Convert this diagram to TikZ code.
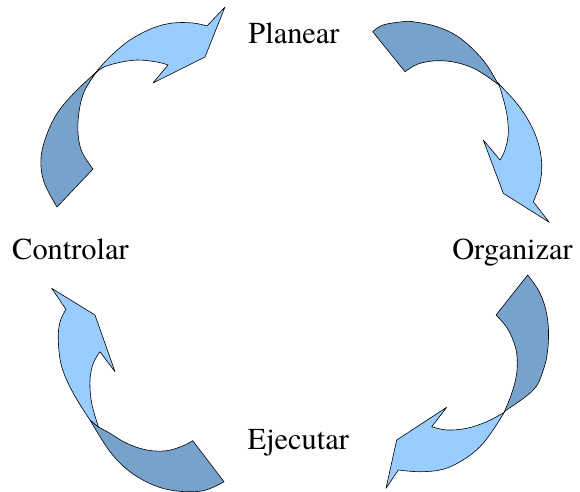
\documentclass[tikz,border=0pt]{standalone}
\usepackage{fontspec}
\newfontfamily\lblfont{TeX Gyre Termes}
\definecolor{arrlight}{RGB}{153,204,255}
\definecolor{arrdark}{RGB}{119,162,204}
\begin{document}
\begin{tikzpicture}[x=1pt,y=-1pt,
  lightpart/.style={fill=arrlight,draw=black,line width=0.6pt,line join=round},
  darkpart/.style={fill=arrdark,draw=black,line width=0.6pt,line join=round},
  steptext/.style={anchor=base,inner sep=0pt,font=\lblfont\fontsize{30.4pt}{36pt}\selectfont}]
\useasboundingbox (0,0) rectangle (580,491);
% Arrow 1: Controlar -> Planear
\path[darkpart] plot[smooth,tension=0.6] coordinates {(57,207) (44,182) (41,158) (47,134) (58,112) (75,92) (92,76)}
  -- plot[smooth,tension=0.6] coordinates {(95,74) (84,92) (79,112) (78,133) (82,152) (93,169)} -- cycle;
\path[lightpart] plot[smooth,tension=0.6] coordinates {(92,76) (97,71) (110,56.7) (130,40) (153,28) (173,23) (193,23) (207,26)}
  -- (225,7) -- (205,57) -- (153,83) -- (168,65)
  -- plot[smooth,tension=0.6] coordinates {(168,65) (157,62) (137,60) (117,63) (102,68) (95,74)} -- cycle;
% Arrow 2: Planear -> Organizar
\path[darkpart] plot[smooth,tension=0.6] coordinates {(372.7,31.7) (383,25) (403,21.7) (413,21.7) (437,26.7) (460,38) (483,60) (497,82)}
  -- plot[smooth,tension=0.6] coordinates {(499,85) (477,70) (457,62.7) (437,60.7) (418,64) (405,71.7)} -- cycle;
\path[lightpart] plot[smooth,tension=0.6] coordinates {(497,82) (500,85) (516.7,103.3) (530,123.3) (538.3,143.3) (541.7,163.3) (540,183.3) (533.3,201.7)}
  -- (549.3,222.3) -- (503.3,193.3) -- (483.3,140) -- (500,160)
  -- plot[smooth,tension=0.6] coordinates {(500,160) (505,150) (508.3,133.3) (506.7,113.3) (501.7,93.3) (499,85)} -- cycle;
% Arrow 3: Organizar -> Ejecutar
\path[darkpart] plot[smooth,tension=0.6] coordinates {(527.7,275) (538.3,290) (545,306.7) (548.3,326.7) (547.7,350) (543.3,370) (533.3,390) (505,411)}
  -- plot[smooth,tension=0.6] coordinates {(504,412.5) (511.7,393.3) (516.7,373.3) (516.7,353.3) (511.7,336.7) (505,325) (496,315)} -- cycle;
\path[lightpart] plot[smooth,tension=0.6] coordinates {(505,411) (493,430) (480,446.7) (463,460) (443,469.3) (420,471.7) (398.3,470)}
  -- (386,488.3) -- (396.7,440) -- (446.7,407.3) -- (431.7,426.7)
  -- plot[smooth,tension=0.6] coordinates {(431.7,426.7) (446.7,430) (466.7,428.3) (486.7,421.7) (504,412.5)} -- cycle;
% Arrow 4: Ejecutar -> Controlar
\path[darkpart] plot[smooth,tension=0.6] coordinates {(224,481.7) (203.3,490.7) (176.7,491) (153.3,485) (130,471.7) (110,451.7) (90,420)}
  -- plot[smooth,tension=0.6] coordinates {(98.5,427) (110,433.3) (126.7,443.3) (146.7,450) (166.7,450.7) (183.3,445.7) (192.7,440.7)} -- cycle;
\path[lightpart] plot[smooth,tension=0.6] coordinates {(90,420) (73.3,393.3) (61.7,366.7) (58.3,340) (60,322) (66,309.3)}
  -- (51.7,288.3) -- (95,315) -- (115,371.7) -- (100,351.7)
  -- plot[smooth,tension=0.6] coordinates {(100,351.7) (93.3,363.3) (90,380) (91.7,403.3) (98.5,427)} -- cycle;
% Labels
\node[steptext] (planear) at (294,43.3) {Planear};
\node[steptext] (organizar) at (512.5,259.3) {Organizar};
\node[steptext] (controlar) at (70.5,259.3) {Controlar};
\node[steptext] (ejecutar) at (298.3,449.3) {Ejecutar};
\end{tikzpicture}
\end{document}
